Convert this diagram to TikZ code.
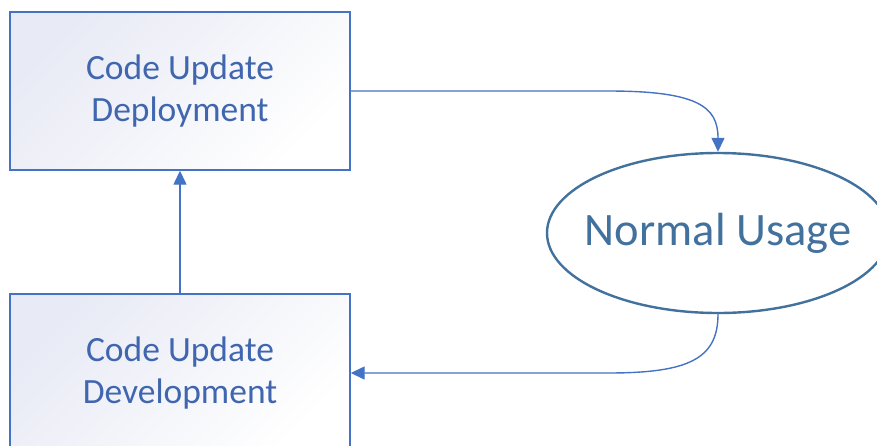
\documentclass[tikz,border=0pt]{standalone}
\usepackage{fontspec}
\setmainfont{Carlito}
\usetikzlibrary{arrows.meta, calc, shapes.geometric}
\definecolor{boxblue}{HTML}{4472C4}
\definecolor{textblue}{HTML}{3F66AE}
\definecolor{ellblue}{HTML}{41719C}
\definecolor{lav}{HTML}{E8EAF5}

\begin{document}
\begin{tikzpicture}[x=1pt, y=-1pt,
  codebox/.style={draw=boxblue, line width=1.4pt, rectangle, minimum width=340pt, minimum height=158pt,
    shade, top color=lav, bottom color=white, shading angle=45, text=textblue, align=center,
    font=\fontsize{35.5}{42}\selectfont},
  usage/.style={draw=ellblue, line width=2.4pt, ellipse, minimum width=342pt, minimum height=160pt,
    inner xsep=-14pt, inner ysep=0pt, text=ellblue, font=\fontsize{46.5}{50}\selectfont},
  conn/.style={draw=boxblue, line width=1.4pt, -{Triangle[length=14pt, width=13pt]}}]
\useasboundingbox (0,0) rectangle (877,445);
\clip (0,0) rectangle (877,445);
\node[codebox] (deploy) at (180,91) {Code Update\\Deployment};
\node[codebox] (develop) at (180,373) {Code Update\\Development};
\node[usage] (usage) at (718,233) {Normal Usage};
\draw[conn] (develop.north) -- (deploy.south);
\draw[conn] (deploy.east) -- ([xshift=-110pt]deploy.east -| usage.north)
  .. controls ([xshift=-20pt]deploy.east -| usage.north) and ([yshift=45pt]usage.north) .. (usage.north);
\draw[conn] (usage.south) .. controls ([yshift=-45pt]usage.south) and ([xshift=-30pt]develop.east -| usage.south)
  .. ([xshift=-110pt]develop.east -| usage.south) -- (develop.east);
\end{tikzpicture}
\end{document}
